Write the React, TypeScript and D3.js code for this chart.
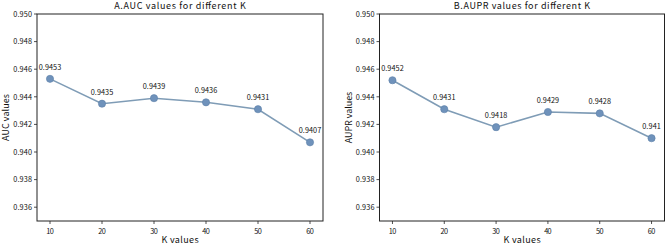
import React from "react";
import * as d3 from "d3";

const kValues = [10, 20, 30, 40, 50, 60];
const aucValues = [0.9453, 0.9435, 0.9439, 0.9436, 0.9431, 0.9407];
const auprValues = [0.9452, 0.9431, 0.9418, 0.9429, 0.9428, 0.941];
const aucLabels = ["0.9453", "0.9435", "0.9439", "0.9436", "0.9431", "0.9407"];
const auprLabels = ["0.9452", "0.9431", "0.9418", "0.9429", "0.9428", "0.941"];
const yTicks = [0.936, 0.938, 0.94, 0.942, 0.944, 0.946, 0.948, 0.95];
const xTicks = [10, 20, 30, 40, 50, 60];

const FONT = "'Noto Sans CJK SC', 'Noto Sans', sans-serif";

type TProps = {
  x?: number;
  y?: number;
  size: number;
  cw: number;
  anchor?: "start" | "middle" | "end";
  text: string;
  transform?: string;
};

function T({ x = 0, y = 0, size, cw, anchor = "middle", text, transform }: TProps) {
  return (
    <text
      x={x}
      y={y}
      transform={transform}
      textAnchor={anchor}
      fontSize={size}
      fontFamily={FONT}
      fill="#111"
      textLength={text.length * cw}
      lengthAdjust="spacing"
    >
      {text}
    </text>
  );
}

type PanelProps = {
  left: number;
  right: number;
  title: string;
  ylabel: string;
  values: number[];
  labels: string[];
};

function Panel({ left, right, title, ylabel, values, labels }: PanelProps) {
  const top = 14;
  const bottom = 221;
  const x = d3.scaleLinear().domain([7.5, 62.5]).range([left, right]);
  const y = d3.scaleLinear().domain([0.935, 0.95]).range([bottom, top]);
  const line = d3
    .line<number>()
    .x((_, i) => x(kValues[i]))
    .y((d) => y(d));
  const cx = (left + right) / 2;
  return (
    <g>
      <T x={cx} y={8.8} size={9} cw={4.7} text={title} />
      <rect x={left} y={top} width={right - left} height={bottom - top} fill="none" stroke="#222" strokeWidth={1} />
      {yTicks.map((t) => (
        <g key={t}>
          <line x1={left - 3} x2={left} y1={y(t)} y2={y(t)} stroke="#222" strokeWidth={0.8} />
          <T x={left - 5} y={y(t) + 2.7} size={7.3} cw={3.75} anchor="end" text={d3.format(".3f")(t)} />
        </g>
      ))}
      {xTicks.map((t) => (
        <g key={t}>
          <line x1={x(t)} x2={x(t)} y1={bottom} y2={bottom + 3} stroke="#222" strokeWidth={0.8} />
          <T x={x(t)} y={bottom + 12.5} size={7.3} cw={3.75} text={String(t)} />
        </g>
      ))}
      <T x={cx} y={243} size={9} cw={4.65} text="K values" />
      <T
        transform={`translate(${left - 28},${(top + bottom) / 2}) rotate(-90)`}
        size={9}
        cw={4.7}
        text={ylabel}
      />
      <path d={line(values) || ""} fill="none" stroke="#7f9cb6" strokeWidth={1.6} />
      {values.map((v, i) => (
        <circle key={i} cx={x(kValues[i])} cy={y(v)} r={3.6} fill="#6f92bb" stroke="#5d7fa8" strokeWidth={0.6} />
      ))}
      {values.map((v, i) => (
        <T key={"l" + i} x={x(kValues[i])} y={y(v) - 9} size={7.3} cw={3.75} text={labels[i]} />
      ))}
    </g>
  );
}

export default function App() {
  return (
    <svg width={666} height={245} style={{ position: "absolute", left: 0, top: 0, background: "#fff" }}>
      <rect width={666} height={245} fill="#fff" />
      <Panel left={37} right={323} title="A.AUC values for different K" ylabel="AUC values" values={aucValues} labels={aucLabels} />
      <Panel left={379.5} right={664.5} title="B.AUPR values for different K" ylabel="AUPR values" values={auprValues} labels={auprLabels} />
    </svg>
  );
}
